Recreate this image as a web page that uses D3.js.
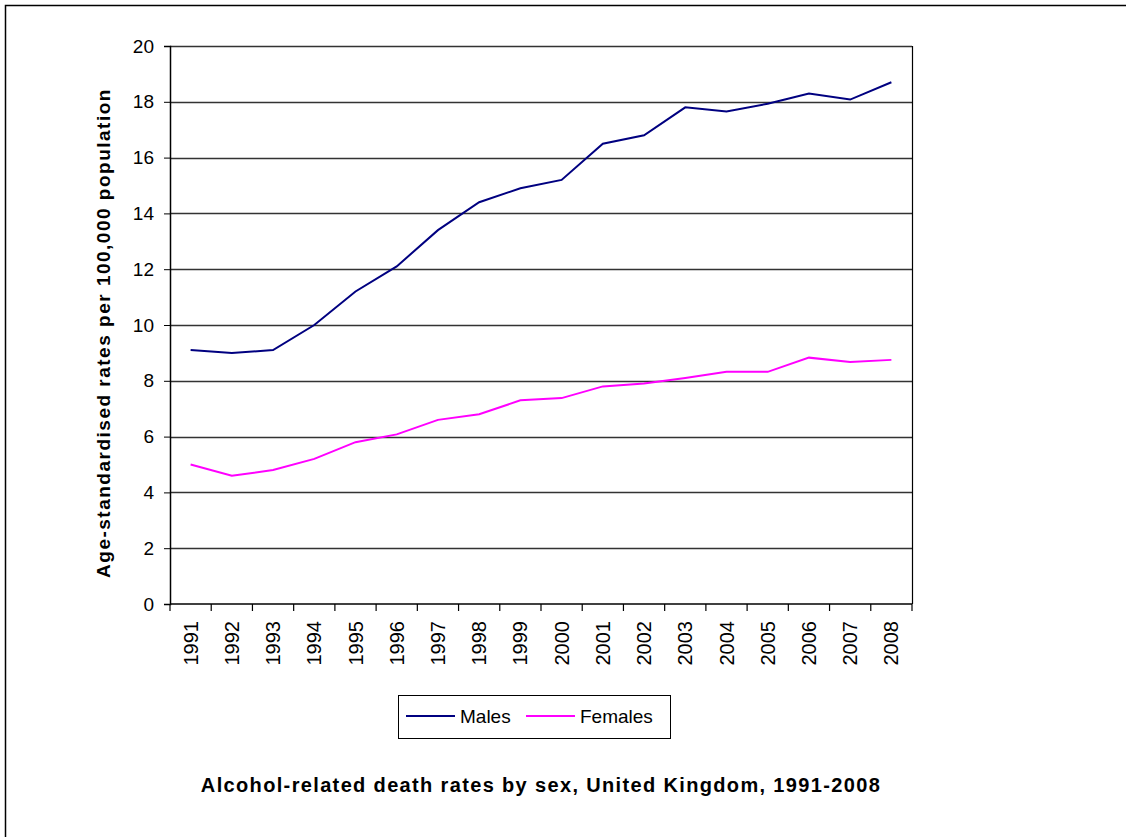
<!DOCTYPE html>
<html>
<head>
<meta charset="utf-8">
<script src="https://cdn.jsdelivr.net/npm/d3@7"></script>
<style>
  body { margin: 0; background: #fff; }
  text { font-family: Arial, "Liberation Sans", sans-serif; fill: #000; }
</style>
</head>
<body>
<div class="chart"></div>
<script>
// DATA ------------------------------------
const years = ["1991","1992","1993","1994","1995","1996","1997","1998","1999",
               "2000","2001","2002","2003","2004","2005","2006","2007","2008"];
const males = [9.1, 9.0, 9.1, 10.0, 11.2, 12.1, 13.4, 14.4, 14.9,
               15.2, 16.5, 16.8, 17.8, 17.65, 17.93, 18.3, 18.08, 18.7];
const females = [5.0, 4.6, 4.8, 5.2, 5.8, 6.08, 6.6, 6.8, 7.3,
                 7.38, 7.8, 7.9, 8.1, 8.32, 8.32, 8.83, 8.67, 8.75];
const yTicks = [0, 2, 4, 6, 8, 10, 12, 14, 16, 18, 20];

// CHART INIT ------------------------------
const W = 1126, H = 837;
const margin = ({top: 46, right: 214, bottom: 233, left: 170});
const width = W - margin.left - margin.right;
const height = H - margin.top - margin.bottom;

const root = d3.select(".chart").append("svg")
    .attr("width", W)
    .attr("height", H);

// outer frame
root.append("rect")
    .attr("x", 5.5).attr("y", 5.5)
    .attr("width", W + 20).attr("height", H + 20)
    .attr("fill", "none")
    .attr("stroke", "#000")
    .attr("stroke-width", 1.5);

const svg = root.append("g")
    .attr("transform", "translate(" + margin.left + "," + margin.top + ")");

const xScale = d3.scaleBand()
    .domain(years)
    .range([0, width]);

const yScale = d3.scaleLinear()
    .domain([0, 20])
    .range([height, 0]);

// gridlines
svg.append("g")
    .selectAll("line")
    .data(yTicks.filter(d => d > 0))
    .enter()
    .append("line")
    .attr("x1", 0).attr("x2", width)
    .attr("y1", d => Math.round(yScale(d)) + 0.5)
    .attr("y2", d => Math.round(yScale(d)) + 0.5)
    .attr("stroke", "#333")
    .attr("stroke-width", 1.3);

// right border of plot area
svg.append("line")
    .attr("x1", width + 0.5).attr("x2", width + 0.5)
    .attr("y1", 0).attr("y2", height)
    .attr("stroke", "#000")
    .attr("stroke-width", 1.2);

// y axis
const yAxis = d3.axisLeft(yScale).tickValues(yTicks).tickSize(6).tickPadding(10);
const gy = svg.append("g").attr("class", "axis y-axis").call(yAxis);
gy.select(".domain").attr("stroke", "#000").attr("stroke-width", 1.5);
gy.selectAll("text").style("font-size", "19px");

// x axis: ticks at band boundaries
const gx = svg.append("g")
    .attr("class", "axis x-axis")
    .attr("transform", `translate(0, ${height})`);
gx.append("line")
    .attr("x1", 0).attr("x2", width)
    .attr("stroke", "#000").attr("stroke-width", 1.5);
gx.selectAll("line.tk")
    .data(years.concat(["end"]))
    .enter()
    .append("line")
    .attr("class", "tk")
    .attr("x1", (d, i) => i < years.length ? xScale(d) : width)
    .attr("x2", (d, i) => i < years.length ? xScale(d) : width)
    .attr("y1", 0).attr("y2", 7)
    .attr("stroke", "#000").attr("stroke-width", 1.2);
gx.selectAll("text")
    .data(years)
    .enter()
    .append("text")
    .attr("transform", d => `translate(${xScale(d) + xScale.bandwidth() / 2 + 7}, 17) rotate(-90)`)
    .attr("text-anchor", "end")
    .style("font-size", "20px")
    .text(d => d);

// y axis title
root.append("text")
    .attr("transform", "translate(110, 333) rotate(-90)")
    .attr("text-anchor", "middle")
    .style("font-size", "19px")
    .style("font-weight", "bold")
    .style("letter-spacing", "1.5px")
    .text("Age-standardised rates per 100,000 population");

// lines
const line = d3.line()
    .x((d, i) => xScale(years[i]) + xScale.bandwidth() / 2)
    .y(d => yScale(d));

svg.append("path")
    .datum(males)
    .attr("fill", "none")
    .attr("stroke", "#000080")
    .attr("stroke-width", 2)
    .attr("d", line);

svg.append("path")
    .datum(females)
    .attr("fill", "none")
    .attr("stroke", "#ff00ff")
    .attr("stroke-width", 2)
    .attr("d", line);

// legend
const legend = root.append("g").attr("transform", "translate(398, 695)");
legend.append("rect")
    .attr("x", 0.5).attr("y", 0.5)
    .attr("width", 272).attr("height", 43)
    .attr("fill", "#fff")
    .attr("stroke", "#000")
    .attr("stroke-width", 1);
const items = [{name: "Males", color: "#000080", x: 8}, {name: "Females", color: "#ff00ff", x: 128}];
items.forEach(it => {
    legend.append("line")
        .attr("x1", it.x).attr("x2", it.x + 49)
        .attr("y1", 21).attr("y2", 21)
        .attr("stroke", it.color).attr("stroke-width", 2);
    legend.append("text")
        .attr("x", it.x + 54).attr("y", 28)
        .style("font-size", "19px")
        .text(it.name);
});

// chart title
root.append("text")
    .attr("x", 541).attr("y", 792)
    .attr("text-anchor", "middle")
    .style("font-size", "20px")
    .style("font-weight", "bold")
    .style("letter-spacing", "1.35px")
    .text("Alcohol-related death rates by sex, United Kingdom, 1991-2008");
</script>
</body>
</html>
